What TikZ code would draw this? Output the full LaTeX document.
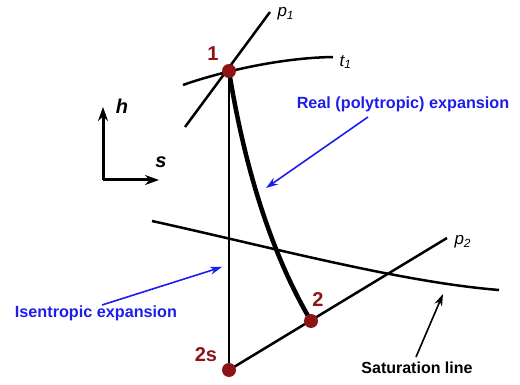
\documentclass[tikz,border=0pt]{standalone}
\usepackage{fontspec}
\setmainfont{Liberation Sans}
\usetikzlibrary{arrows.meta}
\definecolor{dred}{RGB}{140,20,20}
\definecolor{lblue}{RGB}{30,30,235}
\begin{document}
\begin{tikzpicture}[x=1pt,y=-1pt,
  thin line/.style={line width=2.5pt,black},
  state/.style={circle,fill=dred,minimum size=14pt,inner sep=0pt},
  num/.style={text=dred,font=\fontsize{20}{22}\selectfont\bfseries},
  blab/.style={text=lblue,font=\fontsize{16.2}{18}\selectfont\bfseries},
  blarrow/.style={lblue,line width=1.6pt,-{Stealth[length=12pt,width=8pt]}},
  klab/.style={font=\fontsize{16}{18}\selectfont\bfseries},
  plab/.style={font=\fontsize{17}{19}\selectfont\itshape}]
\useasboundingbox (0,0) rectangle (520,385);
% coordinates
\coordinate (P1) at (229,71);
\coordinate (P2s) at (229,370);
\coordinate (P2) at (311,321);
\coordinate (p1a) at (185,127);
\coordinate (p1b) at (270,12);
\coordinate (t1a) at (183,85);
\coordinate (t1b) at (333,57);
\coordinate (p2b) at (447,238);
\coordinate (sat0) at (152,221);
\coordinate (sat1) at (499,290);
% isobars, isotherm
\draw[thin line] (p1a) -- (p1b);
\draw[thin line] (t1a) .. controls (205,77) and (270,58) .. (t1b);
\draw[thin line] (P2s) -- (p2b);
\draw[thin line] (P1) -- (P2s);
% saturation line
\draw[thin line] (sat0) .. controls (270,247) and (400,282) .. (sat1);
% real expansion
\draw[line width=4.5pt] (P1) .. controls (245,170) and (272,255) .. (P2);
% labels p, t
\node[plab,anchor=west] (lp1) at (274,14) {p\textsubscript{1}};
\node[plab,anchor=west] (lt1) at (336,62) {t\textsubscript{1}};
\node[plab,anchor=west] (lp2) at (451,242) {p\textsubscript{2}};
% state points
\node[state] (n1) at (P1) {};
\node[state] (n2s) at (P2s) {};
\node[state] (n2) at (P2) {};
\node[num] (l1) at (213,54) {1};
\node[num] (l2) at (318,300) {2};
\node[num] (l2s) at (206,355) {2s};
% axes
\coordinate (ax0) at (103,180);
\coordinate (axh) at (103,107);
\coordinate (axs) at (159,180);
\draw[line width=3pt,-{Stealth[length=14pt,width=10pt]}] (ax0) -- (axh);
\draw[line width=3pt,-{Stealth[length=14pt,width=10pt]}] (ax0) -- (axs);
\node[font=\fontsize{20}{22}\selectfont\bfseries\itshape] (lh) at (122,106) {h};
\node[font=\fontsize{20}{22}\selectfont\bfseries\itshape] (ls) at (161,162) {s};
% blue annotations
\node[blab] (real) at (403,104) {Real (polytropic) expansion};
\coordinate (realtip) at (266,188);
\draw[blarrow] (368,117) -- (realtip);
\node[blab] (isen) at (96,313) {Isentropic expansion};
\coordinate (isentip) at (222,267);
\draw[blarrow] (102,305) -- (isentip);
\node[klab] (satl) at (417,368) {Saturation line};
\coordinate (sattip) at (443,294);
\draw[line width=1.6pt,-{Stealth[length=12pt,width=8pt]}] (416,357) -- (sattip);
\end{tikzpicture}
\end{document}
